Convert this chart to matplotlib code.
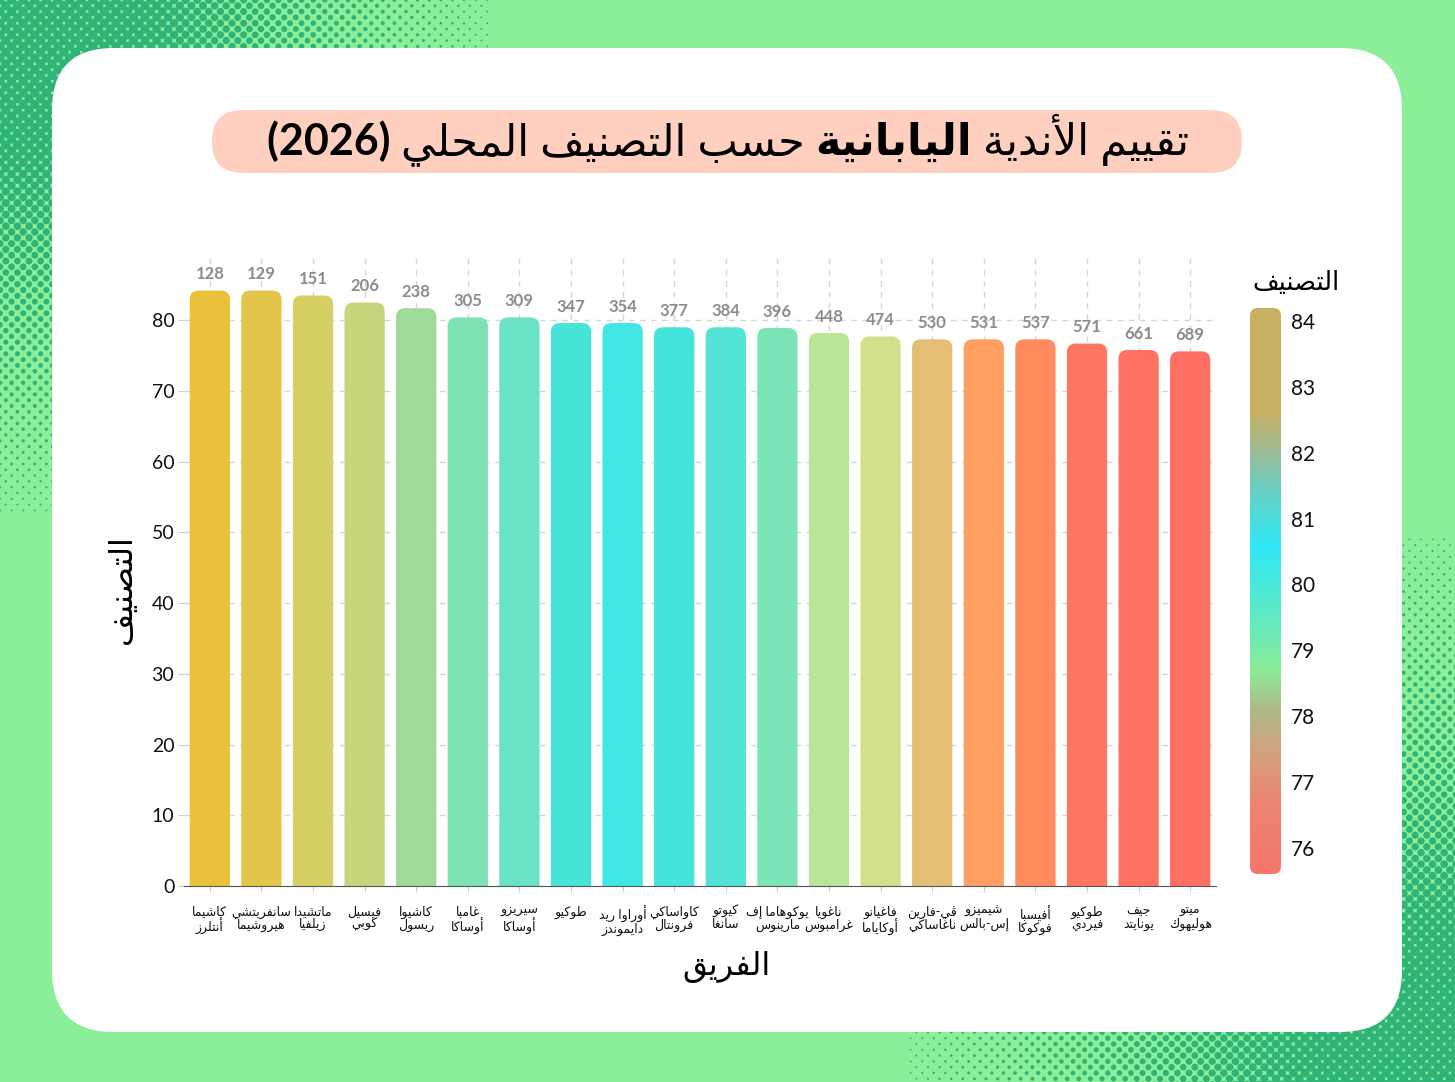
import numpy as np
import matplotlib
matplotlib.use('Agg')
import matplotlib.pyplot as plt
from matplotlib.patches import FancyBboxPatch
from matplotlib.colors import LinearSegmentedColormap, Normalize
from matplotlib.offsetbox import TextArea, HPacker, AnnotationBbox

# ---------------- data ----------------
teams = ['كاشيما\nأنتلرز', 'سانفريتشي\nهيروشيما', 'ماتشيدا\nزيلفيا', 'فيسيل\nكوبي',
         'كاشيوا\nريسول', 'غامبا\nأوساكا', 'سيريزو\nأوساكا', 'طوكيو',
         'أوراوا ريد\nدايموندز', 'كاواساكي\nفرونتال', 'كيوتو\nسانغا',
         'يوكوهاما إف\nمارينوس', 'ناغويا\nغرامبوس', 'فاغيانو\nأوكاياما',
         'ڤي-فارين\nناغاساكي', 'شيميزو\nإس-بالس', 'أفيسبا\nفوكوكا',
         'طوكيو\nفيردي', 'جيف\nيونايتد', 'ميتو\nهوليهوك']
rating = [84.2, 84.2, 83.5, 82.5, 81.7, 80.4, 80.4, 79.6, 79.6, 79.0,
          79.0, 78.9, 78.2, 77.7, 77.3, 77.3, 77.3, 76.7, 75.8, 75.6]
rank = [128, 129, 151, 206, 238, 305, 309, 347, 354, 377,
        384, 396, 448, 474, 530, 531, 537, 571, 661, 689]
bar_colors = ['#EAC23A', '#E3C54A', '#D6D062', '#C7D47C', '#9EDA98', '#7DE3B4',
              '#6AE3C4', '#46E5D8', '#40E7E4', '#44E3DC', '#52E3D4', '#7CE5B8',
              '#B8E597', '#D3E08B', '#E5BE76', '#FFA062', '#FF8B5E', '#FF7660',
              '#FF7262', '#FF7062']
y_ticks = [0, 10, 20, 30, 40, 50, 60, 70, 80]
cb_ticks = [76, 77, 78, 79, 80, 81, 82, 83, 84]

# ---------------- arabic shaping (no raqm in matplotlib) ----------------
FORMS = {
    'ء': (0xFE80, 'U'), 'آ': (0xFE81, 'R'), 'أ': (0xFE83, 'R'), 'ؤ': (0xFE85, 'R'),
    'إ': (0xFE87, 'R'), 'ئ': (0xFE89, 'D'), 'ا': (0xFE8D, 'R'), 'ب': (0xFE8F, 'D'),
    'ة': (0xFE93, 'R'), 'ت': (0xFE95, 'D'), 'ث': (0xFE99, 'D'), 'ج': (0xFE9D, 'D'),
    'ح': (0xFEA1, 'D'), 'خ': (0xFEA5, 'D'), 'د': (0xFEA9, 'R'), 'ذ': (0xFEAB, 'R'),
    'ر': (0xFEAD, 'R'), 'ز': (0xFEAF, 'R'), 'س': (0xFEB1, 'D'), 'ش': (0xFEB5, 'D'),
    'ص': (0xFEB9, 'D'), 'ض': (0xFEBD, 'D'), 'ط': (0xFEC1, 'D'), 'ظ': (0xFEC5, 'D'),
    'ع': (0xFEC9, 'D'), 'غ': (0xFECD, 'D'), 'ف': (0xFED1, 'D'), 'ق': (0xFED5, 'D'),
    'ك': (0xFED9, 'D'), 'ل': (0xFEDD, 'D'), 'م': (0xFEE1, 'D'), 'ن': (0xFEE5, 'D'),
    'ه': (0xFEE9, 'D'), 'و': (0xFEED, 'R'), 'ى': (0xFEEF, 'R'), 'ي': (0xFEF1, 'D'),
    'ڤ': (0xFB6A, 'D'),
}
LAM_ALEF = {'آ': 0xFEF5, 'أ': 0xFEF7, 'إ': 0xFEF9, 'ا': 0xFEFB}


def shape(line):
    out = []
    n = len(line)
    i = 0
    while i < n:
        c = line[i]
        if c not in FORMS:
            out.append(c)
            i += 1
            continue
        prev = line[i - 1] if i > 0 else None
        join_prev = prev in FORMS and FORMS[prev][1] == 'D' and FORMS[c][1] != 'U'
        if c == 'ل' and i + 1 < n and line[i + 1] in LAM_ALEF:
            out.append(chr(LAM_ALEF[line[i + 1]] + (1 if join_prev else 0)))
            i += 2
            continue
        nxt = line[i + 1] if i + 1 < n else None
        join_next = FORMS[c][1] == 'D' and nxt in FORMS and FORMS[nxt][1] != 'U'
        base = FORMS[c][0]
        if join_prev and join_next:
            out.append(chr(base + 3))
        elif join_prev:
            out.append(chr(base + 1))
        elif join_next:
            out.append(chr(base + 2))
        else:
            out.append(chr(base))
        i += 1
    return ''.join(out)


def ar(text):
    return '\n'.join(shape(l)[::-1] for l in text.split('\n'))


FAM = ['Lato', 'DejaVu Sans']
plt.rcParams['font.family'] = FAM

W, H = 1455, 1082
fig = plt.figure(figsize=(W / 100, H / 100), dpi=100)
fig.patch.set_facecolor('#8BEE98')

# ---------------- background: halftone + card ----------------
bg = fig.add_axes([0, 0, 1, 1])
bg.set_xlim(0, W)
bg.set_ylim(H, 0)
bg.axis('off')

gx, gy = [], []
for j in range(int(H / 5.8) + 2):
    for i in range(int(W / 11.6) + 2):
        gx.append(i * 11.6 + (j % 2) * 5.8)
        gy.append(j * 5.8)
gx = np.array(gx)
gy = np.array(gy)
d1 = np.hypot(gx, gy * 0.95)
d2 = np.hypot(W - gx, H - gy)
r = np.maximum(5.0 * np.clip(1.2 - d1 / 480, 0, 1), 4.8 * np.clip(1.2 - d2 / 540, 0, 1))
r = np.minimum(r, 4.6)
r = np.maximum(r, np.where(gx > 1300, 3.4 * np.clip((gy - 600) / 480, 0, 1), 0))
keep = r > 0.9
bg.scatter(gx[keep], gy[keep], s=(2 * r[keep] * 0.72) ** 2, color='#2FB377',
           linewidths=0, zorder=1)

card = FancyBboxPatch((52, 48), 1350, 984, boxstyle='round,pad=0,rounding_size=62',
                      facecolor='white', edgecolor='none', zorder=2)
bg.add_patch(card)
pill = FancyBboxPatch((212, 110), 1030, 63, boxstyle='round,pad=0,rounding_size=31',
                      facecolor='#FFCFC0', edgecolor='none', zorder=3)
bg.add_patch(pill)

# title with one bold word (RTL order laid out left to right)
tp = dict(fontsize=31, color='black', family=FAM)
parts = [TextArea('(2026) ', textprops=dict(tp, fontweight='bold')),
         TextArea(ar('حسب التصنيف المحلي') + ' ', textprops=tp),
         TextArea(ar('اليابانية'), textprops=dict(tp, fontweight='bold')),
         TextArea(' ' + ar('تقييم الأندية'), textprops=tp)]
pack = HPacker(children=parts, pad=0, sep=0, align='baseline')
ab = AnnotationBbox(pack, (728, 140), xycoords='data', frameon=False,
                    box_alignment=(0.5, 0.5), zorder=4)
bg.add_artist(ab)

# ---------------- main bar chart ----------------
ax = fig.add_axes([184 / W, 1 - 886 / H, 1032 / W, 628 / H])
ax.set_facecolor('none')
x = np.arange(len(teams))
ax.set_xlim(-0.5, len(teams) - 0.5)
ax.set_ylim(0, 88.8)

x_per_px = 1 / 51.6
y_per_px = 88.8 / 628
asp = y_per_px / x_per_px
for xi, v, c in zip(x, rating, bar_colors):
    p = FancyBboxPatch((xi - 0.39, -3), 0.78, v + 3,
                       boxstyle='round,pad=0,rounding_size=%f' % (9 * x_per_px),
                       mutation_aspect=asp, facecolor=c, edgecolor='none', zorder=3)
    ax.add_patch(p)
    ax.annotate(str(rank[xi]), (xi, v), xytext=(0, 6), textcoords='offset points',
                ha='center', va='bottom', fontsize=12, fontweight='bold',
                color='#8C8C8C', zorder=4)

ax.set_yticks(y_ticks)
ax.set_yticklabels([str(t) for t in y_ticks], fontsize=14)
ax.set_xticks(x)
ax.set_xticklabels([ar(t) for t in teams], fontsize=9, linespacing=1.0)
ax.tick_params(axis='y', length=4, color='#CCCCCC', pad=3, labelcolor='#111111')
ax.tick_params(axis='x', length=4, color='#CCCCCC', pad=10, labelcolor='#111111')
ax.grid(True, linestyle=(0, (4, 4)), color='#D5D5D5', linewidth=1, zorder=0)
ax.set_axisbelow(True)
for s in ['top', 'right', 'left']:
    ax.spines[s].set_visible(False)
ax.spines['bottom'].set_color('#555555')
ax.spines['bottom'].set_zorder(5)

ax.set_xlabel(ar('الفريق'), fontsize=23, family=FAM)
ax.xaxis.set_label_coords((727 - 184) / 1032, -(966 - 886) / 628)
ax.xaxis.label.set_va('center')
ax.set_ylabel(ar('التصنيف'), fontsize=23, family=FAM)
ax.yaxis.set_label_coords(-(184 - 122) / 1032, (886 - 590) / 628)
ax.yaxis.label.set_va('center')

# ---------------- colour bar ----------------
cmap = LinearSegmentedColormap.from_list('rate', [
    (0.00, '#F4766A'), (0.12, '#EE8470'), (0.20, '#D89D7A'), (0.29, '#B0B98A'),
    (0.36, '#8AEC98'), (0.46, '#5EEAC6'), (0.58, '#30E8F6'), (0.68, '#6ACFC2'),
    (0.76, '#A4B98C'), (0.82, '#C8B062'), (1.00, '#C8B062')])
vmin, vmax = min(rating), max(rating)
norm = Normalize(vmin, vmax)
cax = fig.add_axes([1250 / W, 1 - 874 / H, 31 / W, 566 / H])
grad = np.linspace(vmin, vmax, 256).reshape(-1, 1)
im = cax.imshow(grad, aspect='auto', cmap=cmap, norm=norm, origin='lower',
                extent=[0, 1, vmin, vmax])
clip = FancyBboxPatch((0, 0), 1, 1, boxstyle='round,pad=0,rounding_size=0.25',
                      mutation_aspect=31 / 566, transform=cax.transAxes,
                      facecolor='none', edgecolor='none')
cax.add_patch(clip)
im.set_clip_path(clip)
cax.set_xlim(0, 1)
cax.set_ylim(vmin, vmax)
cax.set_xticks([])
cax.yaxis.tick_right()
cax.set_yticks(cb_ticks)
cax.set_yticklabels([str(t) for t in cb_ticks], fontsize=15)
cax.tick_params(axis='y', length=0, pad=7, labelcolor='#111111')
for s in cax.spines.values():
    s.set_visible(False)
cax.text((1296 - 1250) / 31, 1 + (308 - 283) / 566, ar('التصنيف'), fontsize=18.5,
         ha='center', va='center', transform=cax.transAxes, family=FAM)

fig.savefig('out.png', dpi=100, facecolor=fig.get_facecolor())
